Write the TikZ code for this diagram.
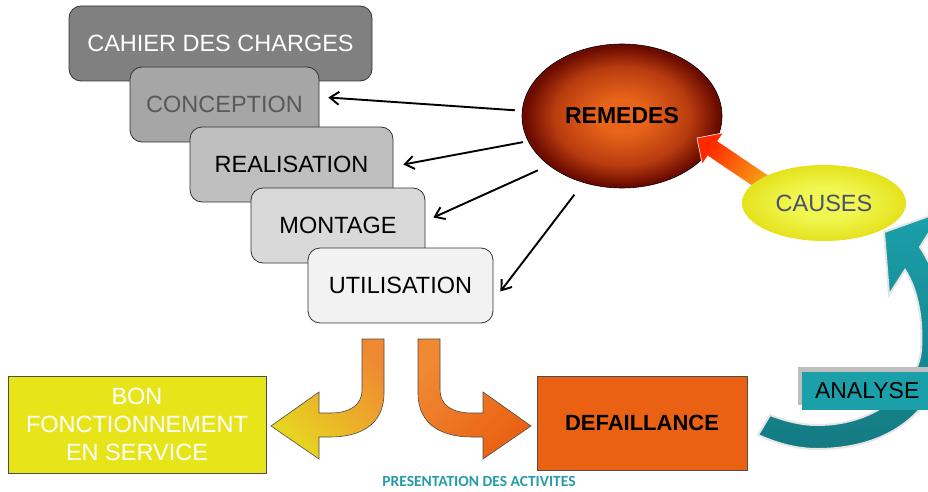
\documentclass[tikz,border=0pt]{standalone}
\usepackage{fontspec}
\setmainfont{Liberation Sans}
\newfontfamily\titlefont{Carlito}
\usetikzlibrary{shapes.geometric,arrows.meta,positioning,shadows}

\definecolor{cdcgray}{RGB}{128,128,128}
\definecolor{concgray}{RGB}{166,166,166}
\definecolor{realgray}{RGB}{191,191,191}
\definecolor{montgray}{RGB}{217,217,217}
\definecolor{utilgray}{RGB}{242,242,242}
\definecolor{conctext}{RGB}{89,89,89}
\definecolor{remin}{RGB}{232,100,26}
\definecolor{remmid}{RGB}{185,60,15}
\definecolor{remout}{RGB}{108,12,0}
\definecolor{causin}{RGB}{240,247,80}
\definecolor{causout}{RGB}{229,226,28}
\definecolor{causetext}{RGB}{75,80,110}
\definecolor{causered}{RGB}{255,40,0}
\definecolor{causemid}{RGB}{255,128,16}
\definecolor{causeyel}{RGB}{242,200,30}
\definecolor{bonyellow}{RGB}{232,228,26}
\definecolor{defaorange}{RGB}{235,97,20}
\definecolor{flecheorange}{RGB}{240,138,50}
\definecolor{flecheyellow}{RGB}{230,216,32}
\definecolor{flechered}{RGB}{234,96,19}
\definecolor{analight}{RGB}{27,160,170}
\definecolor{anadark}{RGB}{20,122,130}
\definecolor{anashadow}{RGB}{190,190,190}
\definecolor{titleteal}{RGB}{38,155,170}

\pgfdeclareradialshading{remshade}{\pgfpoint{0bp}{0bp}}{color(0bp)=(remin); color(6bp)=(remin); color(17bp)=(remmid); color(24bp)=(remout); color(50bp)=(remout)}
\pgfdeclareradialshading{causeshade}{\pgfpoint{0bp}{0bp}}{color(0bp)=(causin); color(10bp)=(causin); color(25bp)=(causout); color(50bp)=(causout)}

\begin{document}
\begin{tikzpicture}[x=1pt,y=-1pt,
    stage/.style={draw=black!80, line width=0.8pt, rounded corners=12pt, minimum height=75pt, inner sep=0pt, font=\fontsize{23.5}{28}\selectfont},
    remarrow/.style={line width=1.9pt, -{Straight Barb[length=9pt,width=13pt]}, shorten <=#1}]

        \clip (0,0) rectangle (928,492);

        % Stage positions (top-left to bottom-right)
        \coordinate (cdc-pos) at (220.5,43.5);
        \coordinate (conc-pos) at (224.5,104.5);
        \coordinate (real-pos) at (291.5,164.5);
        \coordinate (mont-pos) at (338,225.5);
        \coordinate (util-pos) at (400.5,285.5);

        % Stacked stages, each one over the previous
        \node[stage, fill=cdcgray, text=white, minimum width=303pt] (cdc) at (cdc-pos) {CAHIER DES CHARGES};
        \node[stage, fill=concgray, text=conctext, minimum width=189pt] (conc) at (conc-pos) {CONCEPTION};
        \node[stage, fill=realgray, minimum width=203pt] (real) at (real-pos) {REALISATION};
        \node[stage, fill=montgray, minimum width=174pt] (mont) at (mont-pos) {MONTAGE};
        \node[stage, fill=utilgray, minimum width=185pt] (util) at (util-pos) {UTILISATION};

        % Remedies ellipse
        \node[ellipse, draw=black, line width=0.6pt, shade, shading=remshade, minimum width=200pt, minimum height=144pt, inner sep=0pt, font=\bfseries\fontsize{23}{28}\selectfont] (rem) at (622,116) {REMEDES};

        % Arrows back to the stages
        \draw[remarrow=7pt] (rem.177) -- ([xshift=9pt,yshift=7pt]conc.east);
        \draw[remarrow=5pt] (rem.195) -- ([xshift=10pt]real.east);
        \draw[remarrow=12pt] (rem.214) -- ([xshift=8pt,yshift=8pt]mont.east);
        \draw[remarrow=15pt] (rem.240) -- ([xshift=7pt,yshift=-6pt]util.east);

        % Block arrow from causes to remedies (drawn before CAUSES)
        \shade[top color=causered, middle color=causemid, bottom color=causeyel, shading angle=56, draw=white, line width=0.6pt]
            (697,138) -- (723.4,132.8) -- (717.8,141.1) -- (792.5,191.5) -- (782.5,206.5) -- (707.8,156.1) -- (702.2,164.4) -- cycle;

        \node[ellipse, shade, shading=causeshade, minimum width=164pt, minimum height=76pt, inner sep=0pt, text=causetext, font=\fontsize{23.5}{28}\selectfont] (cause) at (824,203) {CAUSES};

        % Curved arrows out of UTILISATION
        \shade[top color=flecheorange, bottom color=flecheyellow, shading angle=-45, draw=black!70, line width=0.6pt]
            (271,426) -- (319,392) -- (319,413) -- (330,413) .. controls (350,413) and (362,405) .. (362,390)
            -- (362,339) -- (384,339) -- (384,393) .. controls (384,425) and (360,437) .. (330,437)
            -- (319,437) -- (319,459) -- cycle;
        \shade[top color=flecheorange, bottom color=flechered, shading angle=45, draw=black!70, line width=0.6pt]
            (531,426) -- (483,392) -- (483,413) -- (472,413) .. controls (452,413) and (440,405) .. (440,390)
            -- (440,339) -- (418,339) -- (418,393) .. controls (418,425) and (442,437) .. (472,437)
            -- (483,437) -- (483,459) -- cycle;

        % Outcomes
        \node[draw=black!70, line width=0.8pt, fill=bonyellow, text=white, minimum width=258pt, minimum height=97pt, align=center, font=\fontsize{23.5}{28}\selectfont] (bon) at (137,424.5) {BON\\FONCTIONNEMENT\\EN SERVICE};
        \node[draw=black!70, line width=0.8pt, fill=defaorange, minimum width=210pt, minimum height=94pt, font=\bfseries\fontsize{22}{28}\selectfont] (defa) at (642,423) {DEFAILLANCE};

        % Analysis loop back to the causes
        \shade[top color=analight, bottom color=anadark, draw=black!10, line width=2pt]
            (758,435) .. controls (780,445) and (800,449) .. (817,449)
            .. controls (900,449) and (945,400) .. (945,340)
            .. controls (945,300) and (935,270) .. (920,247)
            -- (943,211) -- (884,232) -- (889,295) -- (905,270)
            .. controls (918,290) and (923,320) .. (921,350)
            .. controls (918,385) and (880,425) .. (817,425)
            .. controls (800,425) and (783,420) .. (770,415) -- cycle;
        \node[fill=analight, minimum width=130pt, minimum height=38pt, inner sep=0pt, anchor=west, font=\fontsize{23}{28}\selectfont, drop shadow={shadow xshift=-4pt, shadow yshift=5pt, fill=anashadow, opacity=1}] (ana) at (802,391) {ANALYSE};

        \node[text=titleteal, font=\titlefont\bfseries\fontsize{15.5}{18}\selectfont] (title) at (479,481.5) {PRESENTATION DES ACTIVITES};
    \end{tikzpicture}
\end{document}
